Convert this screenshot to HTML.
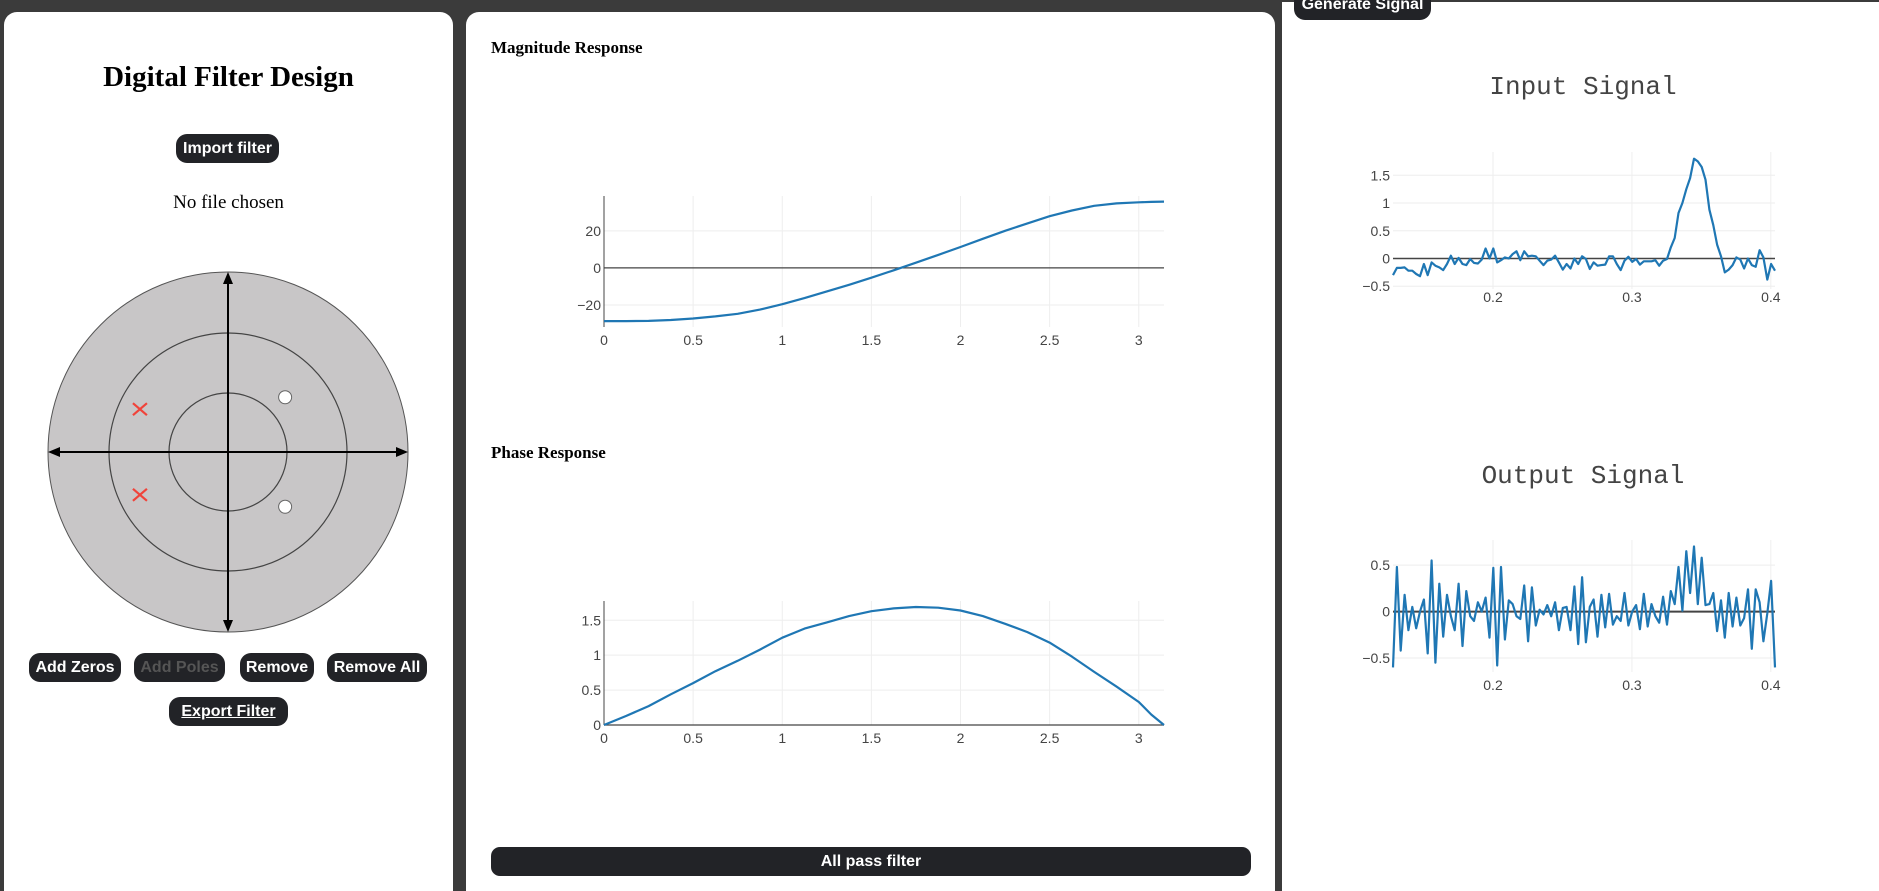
<!DOCTYPE html>
<html><head><meta charset="utf-8">
<style>
body{margin:0;width:1879px;height:891px;background:#3b3b3b;position:relative;overflow:hidden;font-family:"Liberation Sans",sans-serif}
.panel{position:absolute;background:#fff}
.btn{position:absolute;background:#222327;color:#fff;font:bold 16px "Liberation Sans",sans-serif;border-radius:11px;display:flex;align-items:center;justify-content:center;white-space:nowrap}
.h{position:absolute;font-family:"Liberation Serif",serif;font-weight:bold;color:#000}
svg text{font-family:"Liberation Sans",sans-serif}
</style></head><body>
<div class="panel" style="left:4px;top:12px;width:449px;height:879px;border-radius:13px 13px 0 0"></div>
<div class="panel" style="left:466px;top:12px;width:809px;height:879px;border-radius:13px 13px 0 0"></div>
<div class="panel" style="left:1282px;top:2px;width:597px;height:889px"></div>

<div class="h" style="left:4px;width:449px;text-align:center;top:61px;font-size:29px">Digital Filter Design</div>
<div class="btn" style="left:176px;top:134px;width:103px;height:29px">Import filter</div>
<div style="position:absolute;left:4px;width:449px;text-align:center;top:192px;font:19px 'Liberation Serif',serif">No file chosen</div>

<svg style="position:absolute;left:0;top:0" width="460" height="891">
<g id="zp"></g>
</svg>

<div class="btn" style="left:29px;top:653px;width:92px;height:29px">Add Zeros</div>
<div class="btn" style="left:134px;top:653px;width:91px;height:29px;color:#555">Add Poles</div>
<div class="btn" style="left:240px;top:653px;width:74px;height:29px">Remove</div>
<div class="btn" style="left:327px;top:653px;width:100px;height:29px">Remove All</div>
<div class="btn" style="left:169px;top:697px;width:119px;height:29px;text-decoration:underline">Export Filter</div>

<div class="h" style="left:491px;top:38px;font-size:17px">Magnitude Response</div>
<div class="h" style="left:491px;top:443px;font-size:17px">Phase Response</div>
<div class="btn" style="left:491px;top:847px;width:760px;height:29px;border-radius:9px">All pass filter</div>

<div class="btn" style="left:1294px;top:-10px;width:137px;height:30px">Generate Signal</div>
<div style="position:absolute;left:1483px;width:200px;text-align:center;top:72px;font:26px 'Liberation Mono',monospace;color:#444">Input Signal</div>
<div style="position:absolute;left:1433px;width:300px;text-align:center;top:461px;font:26px 'Liberation Mono',monospace;color:#444">Output Signal</div>

<svg id="charts" style="position:absolute;left:0;top:0" width="1879" height="891"></svg>

<script>
// ---- z-plane data ----
const zerosRe=[0.48,0.48], zerosIm=[0.46,-0.46];
const polesRe=[-0.74,-0.74], polesIm=[0.36,-0.36];
// ---- magnitude response ----
const magFreq=[0,0.125,0.25,0.375,0.5,0.625,0.75,0.875,1,1.125,1.25,1.375,1.5,1.625,1.75,1.875,2,2.125,2.25,2.375,2.5,2.625,2.75,2.875,3,3.07,3.1416];
const magVals=[-28.7,-28.7,-28.6,-28.1,-27.3,-26.2,-24.8,-22.5,-19.6,-16.3,-12.7,-9.1,-5.3,-1.3,2.8,7,11.3,15.7,20,24,27.9,31,33.5,34.8,35.4,35.6,35.8];
const magTicksY=[-20,0,20];
// ---- phase response ----
const phFreq=[0,0.125,0.25,0.375,0.5,0.625,0.75,0.875,1,1.125,1.25,1.375,1.5,1.625,1.75,1.875,2,2.125,2.25,2.375,2.5,2.625,2.75,2.875,3,3.07,3.1416];
const phVals=[0,0.13,0.27,0.44,0.6,0.77,0.92,1.08,1.25,1.38,1.47,1.56,1.63,1.67,1.69,1.68,1.64,1.56,1.45,1.33,1.18,0.98,0.76,0.55,0.33,0.15,0];
const phTicksY=[0,0.5,1,1.5];
const freqTicks=[0,0.5,1,1.5,2,2.5,3];
// ---- signals ----
const inputVals=[-0.3,-0.17,-0.17,-0.16,-0.22,-0.22,-0.28,-0.32,-0.1,-0.3,-0.07,-0.13,-0.16,-0.21,-0.1,0.05,-0.1,0.01,-0.1,-0.12,-0.01,-0.08,-0.09,-0.02,0.18,0.0,0.18,-0.07,-0.03,0.02,0.0,0.08,0.13,-0.03,0.13,0.04,0.05,0.04,-0.04,-0.12,-0.04,-0.02,0.05,-0.07,-0.2,-0.1,-0.18,0.0,-0.1,0.04,-0.01,-0.19,-0.07,-0.13,-0.12,-0.11,0.04,0.04,-0.1,-0.21,-0.04,0.03,-0.06,-0.01,-0.11,-0.05,-0.05,-0.05,-0.03,-0.13,-0.04,-0.01,0.2,0.37,0.82,1.0,1.25,1.45,1.8,1.75,1.65,1.42,0.88,0.6,0.25,0.04,-0.25,-0.2,-0.12,0.02,-0.02,-0.18,0.0,-0.12,-0.15,0.15,0.02,-0.38,-0.1,-0.22];
const outputVals=[-0.6,0.48,-0.42,0.18,-0.2,0.05,-0.18,0,0.13,-0.45,0.55,-0.55,0.3,-0.27,0.18,-0.05,-0.2,0.3,-0.37,0.22,-0.05,-0.1,0.1,0,0.15,-0.28,0.47,-0.58,0.48,-0.3,0.12,0.08,-0.05,-0.08,0.28,-0.32,0.26,-0.15,0.02,-0.03,0.07,-0.05,0.1,-0.2,0.04,0.05,-0.2,0.27,-0.35,0.37,-0.33,0.05,0.13,-0.27,0.18,-0.17,0.19,-0.14,-0.05,-0.1,0.2,-0.15,0,0.07,-0.19,0.19,-0.16,0.08,-0.05,-0.12,0.16,-0.14,0.22,0.08,0.48,0.01,0.65,0.2,0.7,0.08,0.58,0.07,0.08,0.2,-0.21,0.12,-0.28,0.2,-0.16,0.15,-0.15,-0.07,0.24,-0.4,0.24,0.1,-0.32,-0.02,0.33,-0.6];
const tStart=0.128, tEnd=0.403;
const timeTicks=[0.2,0.3,0.4];
const inTicksY=[-0.5,0,0.5,1,1.5];
const outTicksY=[-0.5,0,0.5];

const NS='http://www.w3.org/2000/svg';
function mk(parent,tag,attrs){const e=document.createElementNS(NS,tag);for(const k in attrs)e.setAttribute(k,attrs[k]);parent.appendChild(e);return e;}

// z-plane
const zp=document.getElementById('zp');
const cx=228,cy=452,R=180;
let e;
e=mk(zp,'circle',{cx:cx,cy:cy,r:R,fill:'#c8c6c7',stroke:'#555','stroke-width':1});

e=mk(zp,'circle',{cx:cx,cy:cy,r:119,fill:'none',stroke:'#444','stroke-width':1.2});

e=mk(zp,'circle',{cx:cx,cy:cy,r:59,fill:'none',stroke:'#444','stroke-width':1.2});

e=mk(zp,'line',{x1:cx-R+10,y1:cy,x2:cx+R-10,y2:cy,stroke:'#000','stroke-width':2});

e=mk(zp,'line',{x1:cx,y1:cy-R+10,x2:cx,y2:cy+R-10,stroke:'#000','stroke-width':2});

mk(zp,'polygon',{points:`${cx-R},${cy} ${cx-R+12},${cy-5} ${cx-R+12},${cy+5}`,fill:'#000'});
mk(zp,'polygon',{points:`${cx+R},${cy} ${cx+R-12},${cy-5} ${cx+R-12},${cy+5}`,fill:'#000'});
mk(zp,'polygon',{points:`${cx},${cy-R} ${cx-5},${cy-R+12} ${cx+5},${cy-R+12}`,fill:'#000'});
mk(zp,'polygon',{points:`${cx},${cy+R} ${cx-5},${cy+R-12} ${cx+5},${cy+R-12}`,fill:'#000'});
const S=119;
zerosRe.forEach((re,i)=>{
  const z=mk(zp,'circle',{cx:cx+re*S,cy:cy-zerosIm[i]*S,r:6.5,fill:'#fff',stroke:'#666','stroke-width':1});
  
  
});
polesRe.forEach((re,i)=>{
  const px=cx+re*S,py=cy-polesIm[i]*S;
  const g=mk(zp,'g',{stroke:'#f0433a','stroke-width':2.2});
  
  
  mk(g,'line',{x1:px-7,y1:py-6,x2:px+7,y2:py+6});
  mk(g,'line',{x1:px-7,y1:py+6,x2:px+7,y2:py-6});
});

const svg=document.getElementById('charts');
function chart(name,o){
  const g=mk(svg,'g',{});
  
  
  const X=v=>o.x0+(v-o.xmin)/(o.xmax-o.xmin)*(o.x1-o.x0);
  const Y=v=>o.y0-(v-o.ymin)/(o.ymax-o.ymin)*(o.y0-o.y1);
  o.xt.forEach(t=>{
    const l=mk(g,'line',{x1:X(t),x2:X(t),y1:o.y1,y2:o.y0,stroke:'#eee','stroke-width':1});
    
    const tx=mk(g,'text',{x:X(t),y:o.y0+o.lblOff,'text-anchor':'middle','font-size':14,fill:'#444'});
    tx.textContent=String(t);
    
  });
  o.yt.forEach(t=>{
    if(t!==0){const l=mk(g,'line',{x1:o.x0,x2:o.x1,y1:Y(t),y2:Y(t),stroke:'#eee','stroke-width':1});
    }
    const tx=mk(g,'text',{x:o.x0-3,y:Y(t)+5,'text-anchor':'end','font-size':14,fill:'#444'});
    tx.textContent=(t<0?'\u2212'+Math.abs(t):String(t));
    
  });
  if(o.leftAxis){const l=mk(g,'line',{x1:o.x0,x2:o.x0,y1:o.y1,y2:o.y0,stroke:'#444','stroke-width':1});}
  const zl=mk(g,'line',{x1:o.x0,x2:o.x1,y1:Y(0),y2:Y(0),stroke:'#444','stroke-width':o.zw||1.2});
  
  const pts=o.xs.map((x,i)=>X(x).toFixed(1)+','+Y(o.ys[i]).toFixed(1)).join(' ');
  const p=mk(g,'polyline',{points:pts,fill:'none',stroke:'#1f77b4','stroke-width':2.2,'stroke-linejoin':'round'});
  
}
chart('magnitude-chart',{xs:magFreq,ys:magVals,xmin:0,xmax:3.1416,x0:604,x1:1164,ymin:-31.9,ymax:38.8,y0:327,y1:196,xt:freqTicks,yt:magTicksY,lblOff:18,leftAxis:true});
chart('phase-chart',{xs:phFreq,ys:phVals,xmin:0,xmax:3.1416,x0:604,x1:1164,ymin:0,ymax:1.776,y0:725,y1:601,xt:freqTicks,yt:phTicksY,lblOff:18,leftAxis:true});
const nIn=inputVals.length, nOut=outputVals.length;
const tIn=inputVals.map((v,i)=>tStart+(tEnd-tStart)*i/(nIn-1));
const tOut=outputVals.map((v,i)=>tStart+(tEnd-tStart)*i/(nOut-1));
chart('input-signal-chart',{xs:tIn,ys:inputVals,xmin:0.128,xmax:0.403,x0:1393,x1:1775,ymin:-0.55,ymax:1.92,y0:289,y1:152,xt:timeTicks,yt:inTicksY,lblOff:13,zw:1.5});
chart('output-signal-chart',{xs:tOut,ys:outputVals,xmin:0.128,xmax:0.403,x0:1393,x1:1775,ymin:-0.65,ymax:0.77,y0:672,y1:540,xt:timeTicks,yt:outTicksY,lblOff:18,zw:2});
</script>
</body></html>
